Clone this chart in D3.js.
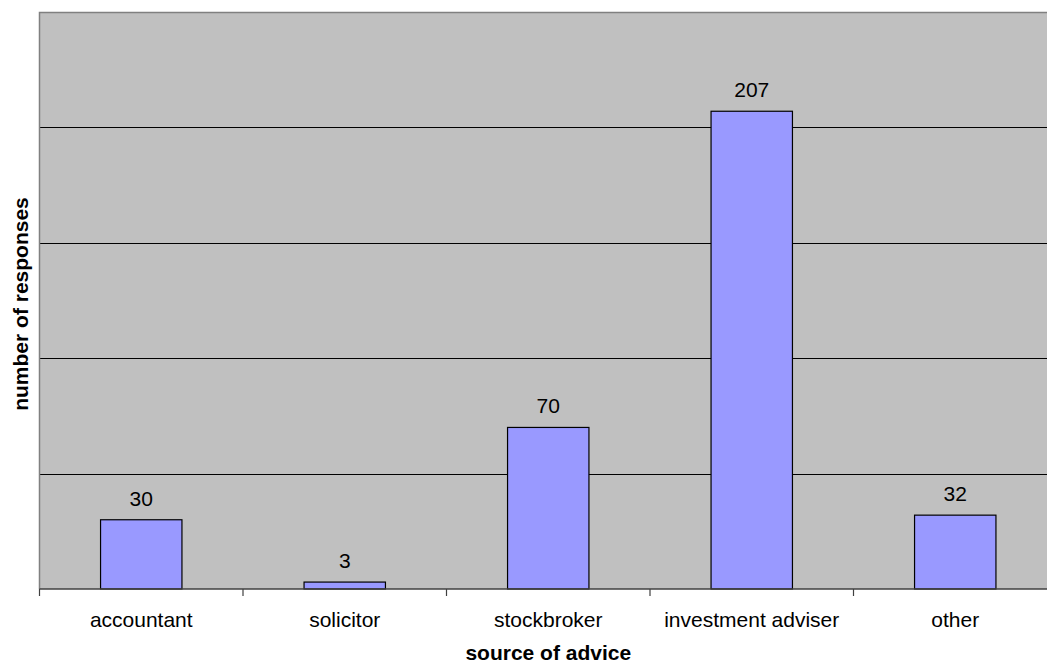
<!DOCTYPE html>
<html>
<head>
<meta charset="utf-8">
<script src="https://cdn.jsdelivr.net/npm/d3@7"></script>
<style>
  body { margin: 0; background: #fff; }
  svg { display: block; }
</style>
</head>
<body>
<svg id="chart"></svg>
<script>
// data
const categories = ["accountant", "solicitor", "stockbroker", "investment adviser", "other"];
const responses = [30, 3, 70, 207, 32];
const yTicks = [0, 50, 100, 150, 200, 250];

const width = 1047;
const height = 666;
const margin = { top: 12, left: 39.5 };
const plotW = 1017.5;   // the plot runs past the right edge, as in the original
const plotH = 577;

const svg = d3.select("#chart")
    .attr("width", width)
    .attr("height", height)
    .attr("font-family", "Arial, 'Liberation Sans', sans-serif");

const x = d3.scaleBand()
    .domain(categories)
    .range([0, plotW])
    .padding(0);

const xBar = d3.scaleBand()
    .domain(categories)
    .range([0, plotW])
    .paddingInner(0.6)
    .paddingOuter(0.3);

const y = d3.scaleLinear()
    .domain([0, 250])
    .range([plotH, 0]);

const g = svg.append("g")
    .attr("transform", `translate(${margin.left},${margin.top})`);

// plot background
g.append("rect")
    .attr("x", 0).attr("y", 0)
    .attr("width", plotW).attr("height", plotH)
    .attr("fill", "#c0c0c0");

// gridlines
g.selectAll(".grid")
    .data(yTicks.filter(d => d > 0 && d < 250))
    .join("line")
    .attr("class", "grid")
    .attr("x1", 0).attr("x2", plotW)
    .attr("y1", d => Math.round(y(d)) + 0.5)
    .attr("y2", d => Math.round(y(d)) + 0.5)
    .attr("stroke", "#000")
    .attr("stroke-width", 1);

// border top + left
g.append("path")
    .attr("d", `M0,${plotH} V0.5 H${plotW}`)
    .attr("fill", "none")
    .attr("stroke", "#808080")
    .attr("stroke-width", 1.5);

// bars
g.selectAll(".bar")
    .data(responses)
    .join("rect")
    .attr("class", "bar")
    .attr("x", (d, i) => xBar(categories[i]))
    .attr("width", xBar.bandwidth())
    .attr("y", d => y(d))
    .attr("height", d => plotH - y(d))
    .attr("fill", "#9999ff")
    .attr("stroke", "#000")
    .attr("stroke-width", 1.2);

// value labels
g.selectAll(".val")
    .data(responses)
    .join("text")
    .attr("class", "val")
    .attr("x", (d, i) => x(categories[i]) + x.bandwidth() / 2)
    .attr("y", d => y(d) - 14)
    .attr("text-anchor", "middle")
    .attr("font-size", 21)
    .attr("fill", "#000")
    .text(d => d);

// x axis
const xAxis = g.append("g")
    .attr("transform", `translate(0,${plotH})`);

xAxis.append("line")
    .attr("x1", 0).attr("x2", plotW)
    .attr("y1", 0).attr("y2", 0)
    .attr("stroke", "#404040")
    .attr("stroke-width", 1.5);

xAxis.selectAll(".tick")
    .data(categories)
    .join("line")
    .attr("class", "tick")
    .attr("x1", d => x(d)).attr("x2", d => x(d))
    .attr("y1", 0).attr("y2", 7)
    .attr("stroke", "#404040")
    .attr("stroke-width", 1.2);

xAxis.selectAll(".lbl")
    .data(categories)
    .join("text")
    .attr("class", "lbl")
    .attr("x", d => x(d) + x.bandwidth() / 2)
    .attr("y", 38)
    .attr("text-anchor", "middle")
    .attr("font-size", 21)
    .attr("fill", "#000")
    .text(d => d);

// axis titles
svg.append("text")
    .attr("x", margin.left + plotW / 2)
    .attr("y", 660)
    .attr("text-anchor", "middle")
    .attr("font-size", 21)
    .attr("font-weight", "bold")
    .text("source of advice");

svg.append("text")
    .attr("transform", `translate(28,304) rotate(-90)`)
    .attr("text-anchor", "middle")
    .attr("font-size", 21)
    .attr("font-weight", "bold")
    .text("number of responses");
</script>
</body>
</html>
